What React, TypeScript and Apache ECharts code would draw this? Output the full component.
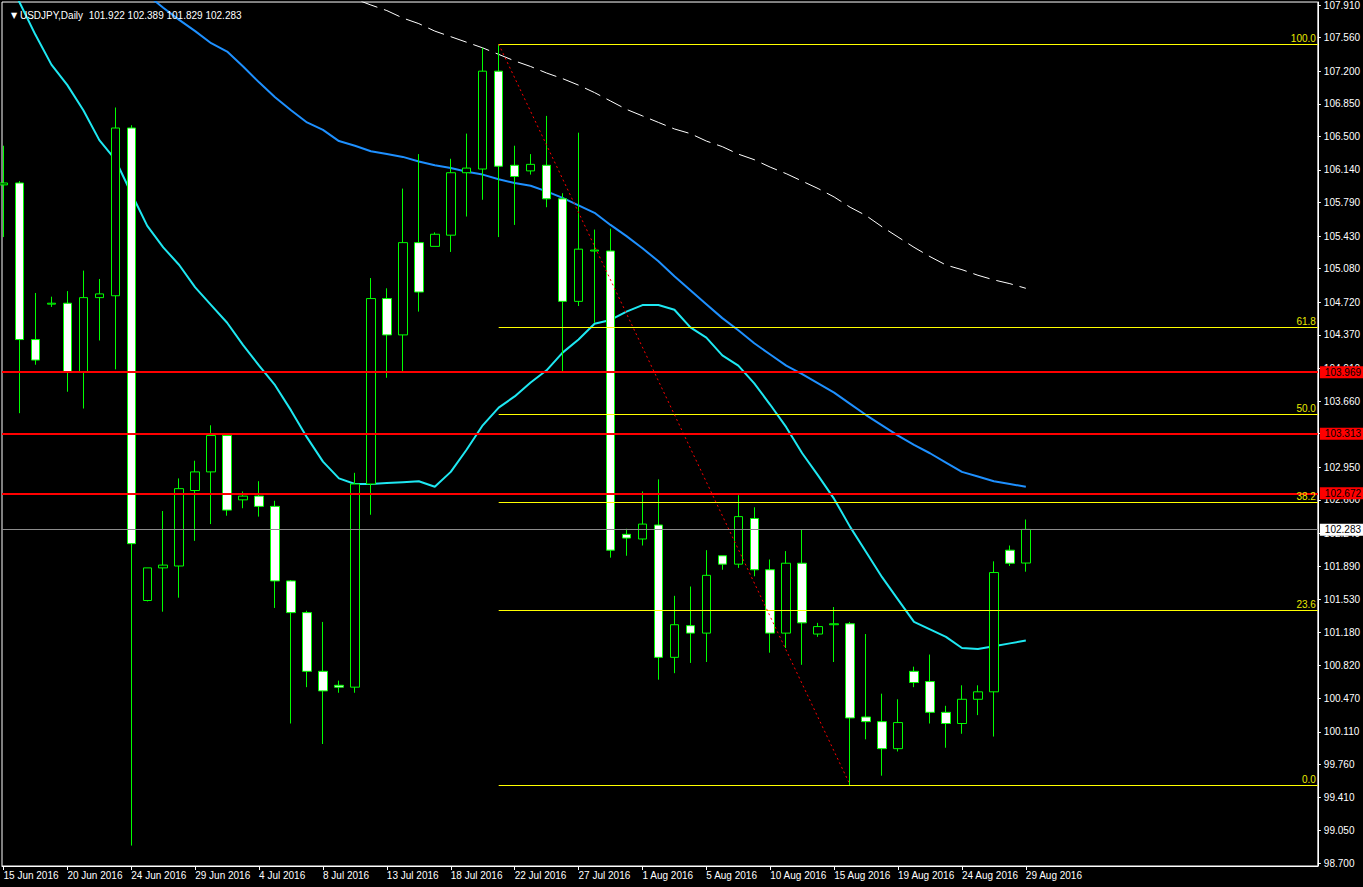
import React, { useEffect, useRef } from "react";
import * as echarts from "echarts";

const dates = [
  "2016-06-15","2016-06-16","2016-06-17","2016-06-19","2016-06-20","2016-06-21","2016-06-22","2016-06-23","2016-06-24","2016-06-26",
  "2016-06-27","2016-06-28","2016-06-29","2016-06-30","2016-07-01","2016-07-03","2016-07-04","2016-07-05","2016-07-06","2016-07-07",
  "2016-07-08","2016-07-10","2016-07-11","2016-07-12","2016-07-13","2016-07-14","2016-07-15","2016-07-17","2016-07-18","2016-07-19",
  "2016-07-20","2016-07-21","2016-07-22","2016-07-24","2016-07-25","2016-07-26","2016-07-27","2016-07-28","2016-07-29","2016-07-31",
  "2016-08-01","2016-08-02","2016-08-03","2016-08-04","2016-08-05","2016-08-07","2016-08-08","2016-08-09","2016-08-10","2016-08-11",
  "2016-08-12","2016-08-14","2016-08-15","2016-08-16","2016-08-17","2016-08-18","2016-08-19","2016-08-21","2016-08-22","2016-08-23",
  "2016-08-24","2016-08-25","2016-08-26","2016-08-28","2016-08-29",
];

const openP = [
  105.98,106.00,104.32,104.70,104.71,103.97,104.77,104.79,106.59,101.52,
  101.87,101.89,102.70,102.90,103.29,102.60,102.64,102.53,101.73,101.39,
  100.76,100.61,100.59,102.77,104.76,104.37,105.36,105.32,105.44,106.11,
  106.15,107.20,106.19,106.13,106.19,105.83,104.73,105.27,105.27,102.23,
  102.18,102.33,100.91,101.25,101.17,102.00,101.91,102.40,101.85,101.17,
  101.92,101.16,101.26,101.27,100.27,100.22,99.93,100.76,100.65,100.32,
  100.20,100.46,100.54,102.06,101.922,
];
const closeP = [
  106.00,104.32,104.10,104.71,103.97,104.77,104.81,106.59,102.13,101.87,
  101.90,102.72,102.90,103.29,102.49,102.64,102.53,101.73,101.39,100.76,
  100.55,100.59,102.77,104.76,104.37,105.36,104.83,105.45,106.11,106.16,
  107.20,106.18,106.07,106.20,105.83,104.73,105.29,105.28,102.06,102.19,
  102.34,100.91,101.26,101.17,101.79,101.91,102.42,101.85,101.17,101.92,
  101.28,101.24,101.27,100.26,100.22,99.93,100.21,100.64,100.32,100.20,
  100.46,100.54,101.82,101.92,102.283,
];
const lowP = [
  105.42,103.53,104.05,104.67,103.76,103.58,104.31,104.00,98.89,101.51,
  101.40,101.55,102.16,102.34,102.43,102.51,102.42,101.44,100.20,100.59,
  99.98,100.53,100.53,102.44,103.91,103.97,104.62,105.32,105.26,105.64,
  105.82,105.42,105.55,106.09,105.74,103.98,104.68,104.50,101.98,102.00,
  102.11,100.67,100.74,100.85,100.86,101.85,101.87,101.78,100.96,101.01,
  100.83,101.13,100.86,99.54,100.03,99.64,99.90,100.59,100.20,99.94,
  100.09,100.29,100.06,101.89,101.829,
];
const highP = [
  106.40,106.02,104.82,104.78,104.84,105.06,104.97,106.81,106.62,101.87,
  102.48,102.83,103.02,103.40,103.31,102.69,102.80,102.59,101.74,101.41,
  101.29,100.66,102.89,104.98,104.87,105.94,106.31,105.47,106.26,106.53,
  107.45,107.49,106.40,106.31,106.72,105.89,106.54,105.50,105.51,102.29,
  102.69,102.82,101.57,101.67,102.06,102.00,102.65,102.52,101.96,102.05,
  102.28,101.28,101.45,101.29,101.16,100.52,100.46,100.81,100.94,100.39,
  100.61,100.61,101.94,102.11,102.389,
];

// moving averages (cyan, blue, white dashed)
const maFast = [
  108.26,107.94,107.59,107.27,107.05,106.78,106.46,106.25,105.89,105.54,
  105.31,105.12,104.88,104.69,104.50,104.26,104.04,103.83,103.56,103.27,
  103.01,102.83,102.77,102.77,102.78,102.79,102.80,102.74,102.90,103.14,
  103.40,103.59,103.71,103.86,103.99,104.18,104.32,104.49,104.53,104.62,
  104.69,104.69,104.64,104.45,104.34,104.15,104.04,103.85,103.62,103.38,
  103.10,102.86,102.61,102.31,102.04,101.77,101.53,101.29,101.21,101.13,
  101.01,101.00,101.03,101.06,101.09,
];
const maMid = [
  null,null,null,null,null,null,null,null,108.15,108.02,
  107.88,107.75,107.63,107.50,107.41,107.25,107.08,106.92,106.78,106.65,
  106.57,106.45,106.40,106.34,106.31,106.28,106.23,106.19,106.16,106.12,
  106.09,106.04,106.00,105.97,105.91,105.84,105.76,105.68,105.55,105.43,
  105.30,105.16,105.00,104.85,104.70,104.55,104.42,104.28,104.16,104.04,
  103.95,103.85,103.75,103.63,103.51,103.40,103.29,103.19,103.10,103.00,
  102.90,102.85,102.80,102.77,102.74,
];
const maSlow = [
  null,null,null,null,null,null,null,null,null,null,
  null,null,null,null,null,null,null,null,null,null,
  null,108.04,107.975,107.91,107.85,107.77,107.71,107.63,107.57,107.51,
  107.45,107.38,107.31,107.25,107.18,107.12,107.05,106.97,106.88,106.79,
  106.72,106.65,106.58,106.53,106.45,106.39,106.31,106.25,106.17,106.10,
  106.02,105.94,105.85,105.74,105.65,105.53,105.42,105.31,105.21,105.12,
  105.07,105.01,104.96,104.92,104.87,
];

const yTickLabels = [
  107.91, 107.56, 107.2, 106.85, 106.5, 106.14, 105.79, 105.43, 105.08, 104.72,
  104.37, 104.01, 103.66, 103.31, 102.95, 102.6, 102.24, 101.89, 101.53, 101.18,
  100.82, 100.47, 100.11, 99.76, 99.41, 99.05, 98.7,
];
const xLabelIndex = [0, 4, 8, 12, 16, 20, 24, 28, 32, 36, 40, 44, 48, 52, 56, 60, 64];

const redLevels = [103.969, 103.313, 102.672];
const fibRatios = [0, 23.6, 38.2, 50, 61.8, 100];
const fibHighIndex = 31;
const fibLowIndex = 53;

const MONTHS = ["Jan","Feb","Mar","Apr","May","Jun","Jul","Aug","Sep","Oct","Nov","Dec"];
const fmtDate = (s: string) => {
  const [y, m, d] = s.split("-");
  return `${parseInt(d, 10)} ${MONTHS[parseInt(m, 10) - 1]} ${y}`;
};

const FONT = '"Liberation Sans", Arial, sans-serif';
const FS = 10;
const X_MIN = -0.09375;
const X_MAX = 82.28125;

export default function App() {
  const ref = useRef<HTMLDivElement>(null);

  useEffect(() => {
    if (!ref.current) return;
    const chart = echarts.init(ref.current, null, { renderer: "svg" });

    const n = dates.length;
    const candles = dates.map((_, i) => [i, openP[i], closeP[i], lowP[i], highP[i]]);
    const toLine = (arr: (number | null)[]) => arr.map((v, i) => [i, v]);

    const fibHigh = highP[fibHighIndex];
    const fibLow = lowP[fibLowIndex];
    const last = n - 1;
    const lastPrice = closeP[last];

    const fibLines = fibRatios.map((r) => {
      const v = fibLow + ((fibHigh - fibLow) * r) / 100;
      return [
        {
          coord: [fibHighIndex, v],
          lineStyle: { color: "#ffff00", width: 1, type: "solid" },
          label: {
            show: true,
            position: "insideEndTop",
            formatter: r.toFixed(1),
            color: "#e8e800",
            fontSize: FS,
            fontFamily: FONT,
            distance: [2, 1],
          },
        },
        { coord: [X_MAX, v] },
      ];
    });

    const diag = [
      {
        coord: [fibHighIndex, fibHigh],
        lineStyle: { color: "#ff0000", width: 1, type: [2, 3] },
        label: { show: false },
      },
      { coord: [fibLowIndex, fibLow] },
    ];

    const redLines = redLevels.map((v) => ({
      yAxis: v,
      lineStyle: { color: "#ff0000", width: 2, type: "solid" },
      label: {
        show: true,
        position: "end",
        distance: 2,
        formatter: v.toFixed(3),
        color: "#000000",
        backgroundColor: "#ff0000",
        padding: [1, 12, 0, 5],
        fontSize: FS,
        lineHeight: 11,
        fontFamily: FONT,
      },
    }));

    const priceLine = {
      yAxis: lastPrice,
      lineStyle: { color: "#8c8c8c", width: 1, type: "solid" },
      label: {
        show: true,
        position: "end",
        distance: 2,
        formatter: lastPrice.toFixed(3),
        color: "#000000",
        backgroundColor: "#ffffff",
        padding: [1, 12, 0, 5],
        fontSize: FS,
        lineHeight: 11,
        fontFamily: FONT,
      },
    };

    const option: any = {
      animation: false,
      backgroundColor: "#000000",
      title: {
        left: 6,
        top: 5,
        text: `{tri|▼} USDJPY,Daily  ${openP[last].toFixed(3)} ${highP[last].toFixed(3)} ${lowP[last].toFixed(3)} ${closeP[last].toFixed(3)}`,
        textStyle: {
          color: "#ffffff",
          fontSize: FS,
          fontWeight: "normal",
          fontFamily: FONT,
          rich: { tri: { fontSize: 8, color: "#ffffff", fontFamily: "DejaVu Sans" } },
        },
      },
      grid: {
        left: 2,
        right: 43,
        top: 2,
        bottom: 21,
        show: true,
        borderColor: "#ffffff",
        borderWidth: 1,
        backgroundColor: "#000000",
      },
      xAxis: {
        type: "value",
        min: X_MIN,
        max: X_MAX,
        splitLine: { show: false },
        axisLine: { show: true, lineStyle: { color: "#ffffff" } },
        axisTick: {
          show: true,
          length: 4,
          lineStyle: { color: "#ffffff" },
          customValues: xLabelIndex,
        },
        axisLabel: {
          show: true,
          customValues: xLabelIndex,
          formatter: (v: number) => fmtDate(dates[Math.round(v)] || ""),
          color: "#ffffff",
          fontSize: FS,
          fontFamily: FONT,
          align: "left",
          margin: 4,
        },
      },
      yAxis: {
        type: "value",
        position: "right",
        min: 98.671,
        max: 107.942,
        scale: true,
        splitLine: { show: false },
        axisLine: { show: true, onZero: false, lineStyle: { color: "#ffffff" } },
        axisTick: {
          show: true,
          length: 3,
          lineStyle: { color: "#ffffff" },
          customValues: yTickLabels,
        },
        axisLabel: {
          show: true,
          customValues: yTickLabels,
          formatter: (v: number) => v.toFixed(3),
          color: "#ffffff",
          fontSize: FS,
          fontFamily: FONT,
          margin: 6,
        },
      },
      series: [
        {
          name: "MA fast",
          type: "line",
          data: toLine(maFast),
          showSymbol: false,
          symbol: "none",
          clip: true,
          z: 1,
          lineStyle: { color: "#1ee8f2", width: 2 },
          emphasis: { disabled: true },
        },
        {
          name: "MA mid",
          type: "line",
          data: toLine(maMid),
          showSymbol: false,
          symbol: "none",
          clip: true,
          z: 1,
          lineStyle: { color: "#1e90ff", width: 2 },
          emphasis: { disabled: true },
        },
        {
          name: "MA slow",
          type: "line",
          data: toLine(maSlow),
          showSymbol: false,
          symbol: "none",
          clip: true,
          z: 1,
          lineStyle: { color: "#ffffff", width: 1, type: [17, 7] },
          emphasis: { disabled: true },
        },
        {
          name: "USDJPY",
          type: "candlestick",
          data: candles,
          encode: { x: 0, y: [1, 2, 3, 4] },
          barWidth: 9,
          clip: true,
          z: 2,
          itemStyle: {
            color: "#000000",
            color0: "#ffffff",
            borderColor: "#00ff00",
            borderColor0: "#00ff00",
            borderWidth: 1,
          },
          emphasis: { disabled: true },
          markLine: {
            silent: true,
            symbol: ["none", "none"],
            animation: false,
            z: 5,
            data: [...fibLines, diag, ...redLines, priceLine],
          },
        },
      ],
    };

    chart.setOption(option);
    return () => chart.dispose();
  }, []);

  return (
    <div
      ref={ref}
      style={{ position: "fixed", left: 0, top: 0, width: 1363, height: 887, background: "#000" }}
    />
  );
}
